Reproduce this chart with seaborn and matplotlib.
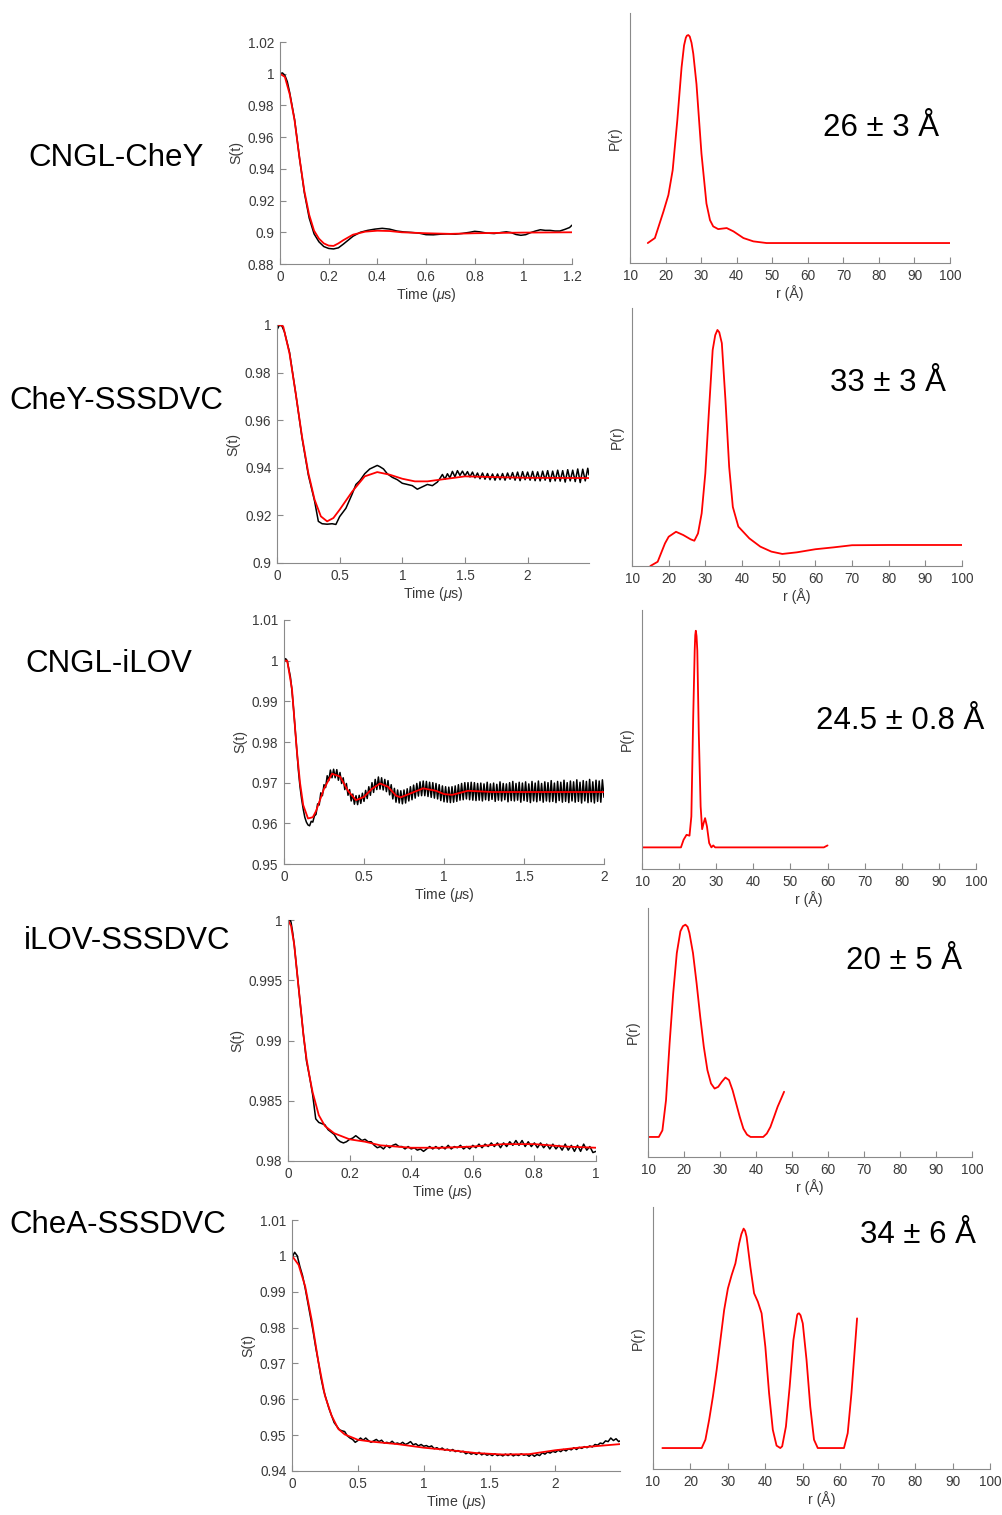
import numpy as np
import matplotlib
matplotlib.use("Agg")
import matplotlib.pyplot as plt
import seaborn as sns

# ---------------- data ----------------
labels = ["CNGL-CheY", "CheY-SSSDVC", "CNGL-iLOV", "iLOV-SSSDVC", "CheA-SSSDVC"]
distances = ["26 ± 3 Å", "33 ± 3 Å", "24.5 ± 0.8 Å", "20 ± 5 Å", "34 ± 6 Å"]

# Row 1 : CNGL-CheY
t1_fit = [0, 0.02, 0.04, 0.06, 0.08, 0.10, 0.12, 0.14, 0.16, 0.18, 0.20, 0.22, 0.24, 0.26, 0.30, 0.35,
          0.40, 0.45, 0.50, 0.60, 0.70, 0.80, 1.0, 1.2]
s1_fit = [1.0, 0.998, 0.987, 0.9705, 0.947, 0.926, 0.911, 0.901, 0.896, 0.893, 0.8916, 0.8914, 0.893,
          0.895, 0.8985, 0.9004, 0.901, 0.9008, 0.900, 0.8994, 0.899, 0.8994, 0.8998, 0.900]
t1_exp = [0, 0.01, 0.02, 0.03, 0.04, 0.06, 0.08, 0.10, 0.12, 0.14, 0.16, 0.18, 0.20, 0.22, 0.24, 0.26,
          0.28, 0.30, 0.33, 0.36, 0.39, 0.42, 0.45, 0.48, 0.51, 0.54, 0.57, 0.60, 0.63, 0.66, 0.69, 0.72,
          0.75, 0.78, 0.80, 0.82, 0.85, 0.88, 0.91, 0.93, 0.95, 0.97, 0.99, 1.01, 1.03, 1.05, 1.07, 1.09,
          1.11, 1.13, 1.15, 1.17, 1.19, 1.2]
s1_exp = [1.0, 1.0005, 0.999, 0.995, 0.988, 0.971, 0.947, 0.925, 0.909, 0.899, 0.894, 0.891, 0.8898,
          0.8895, 0.8902, 0.8925, 0.895, 0.8975, 0.900, 0.9012, 0.902, 0.9025, 0.902, 0.9008, 0.9002,
          0.8999, 0.8995, 0.8985, 0.8984, 0.8988, 0.899, 0.8988, 0.8993, 0.900, 0.9006, 0.9003, 0.8995,
          0.8992, 0.8999, 0.9003, 0.8998, 0.8986, 0.8981, 0.8985, 0.8998, 0.9008, 0.9016, 0.9012, 0.9012,
          0.9008, 0.9008, 0.9018, 0.903, 0.9045]
r1 = [15, 17, 19.4, 20.8, 22, 23.3, 24.5, 25.2, 25.7, 26.0, 26.4, 26.8, 27.3, 27.8, 28.7, 30.1, 31.5,
      32.5, 33.4, 34.8, 37.2, 39.1, 41.9, 44.7, 48.4, 100]
p1 = [0, 0.024, 0.151, 0.231, 0.35, 0.589, 0.844, 0.95, 0.987, 0.997, 1.0, 0.993, 0.963, 0.91, 0.764,
      0.43, 0.19, 0.11, 0.08, 0.067, 0.072, 0.056, 0.024, 0.008, 0, 0]

# Row 2 : CheY-SSSDVC
t2_fit = [0, 0.03, 0.05, 0.10, 0.15, 0.20, 0.25, 0.30, 0.35, 0.40, 0.45, 0.50, 0.60, 0.70, 0.80, 0.90,
          1.0, 1.1, 1.2, 1.3, 1.5, 1.8, 2.0, 2.49]
s2_fit = [1.0, 1.0, 0.9993, 0.988, 0.971, 0.953, 0.9378, 0.9266, 0.9196, 0.9175, 0.9189, 0.9224, 0.930,
          0.9364, 0.9382, 0.9371, 0.9354, 0.9343, 0.9343, 0.935, 0.9364, 0.936, 0.9358, 0.9357]
t2_exp = [0, 0.02, 0.04, 0.06, 0.10, 0.15, 0.20, 0.25, 0.30, 0.33, 0.36, 0.40, 0.44, 0.47, 0.50, 0.55,
          0.60, 0.63, 0.66, 0.70, 0.74, 0.78, 0.80, 0.82, 0.85, 0.88, 0.92, 0.96, 1.00, 1.04, 1.08, 1.12,
          1.16, 1.20, 1.24, 1.28,
          1.30, 1.32, 1.34, 1.36, 1.38, 1.40, 1.42, 1.44, 1.46, 1.48, 1.50, 1.52, 1.54, 1.56, 1.58, 1.60,
          1.62, 1.64, 1.66, 1.68, 1.70, 1.72, 1.74, 1.76, 1.78, 1.80, 1.82, 1.84, 1.86, 1.88, 1.90, 1.92,
          1.94, 1.96, 1.98, 2.00, 2.02, 2.04, 2.06, 2.08, 2.10, 2.12, 2.14, 2.16, 2.18, 2.20, 2.22, 2.24,
          2.26, 2.28, 2.30, 2.32, 2.34, 2.36, 2.38, 2.40, 2.42, 2.44, 2.46, 2.48, 2.49]
s2_exp = [0.998, 1.0, 0.9995, 0.997, 0.9885, 0.971, 0.9525, 0.937, 0.926, 0.9175, 0.9165, 0.9163, 0.9165,
          0.9162, 0.9195, 0.923, 0.929, 0.933, 0.9345, 0.9375, 0.9395, 0.9405, 0.941, 0.9405, 0.9395,
          0.9375, 0.936, 0.935, 0.9335, 0.933, 0.9325, 0.931, 0.932, 0.933, 0.9325, 0.934,
          0.9355, 0.9372, 0.9352, 0.9375, 0.9358, 0.9385, 0.9362, 0.9388, 0.9368, 0.9386, 0.9366, 0.9384,
          0.9362, 0.9382, 0.9358, 0.9378, 0.9354, 0.9378, 0.9352, 0.9376, 0.935, 0.9374, 0.9348, 0.9374,
          0.935, 0.9376, 0.9348, 0.9378, 0.9352, 0.938, 0.9348, 0.9382, 0.9346, 0.9384, 0.935, 0.9382,
          0.9348, 0.9385, 0.9346, 0.9383, 0.9345, 0.9386, 0.9348, 0.9388, 0.9342, 0.9386, 0.9345, 0.939,
          0.9344, 0.9388, 0.934, 0.9392, 0.9345, 0.939, 0.9342, 0.9395, 0.9338, 0.9394, 0.9345, 0.9398,
          0.937]
r2 = [15, 17, 19, 20, 22, 24, 26, 27, 28, 29, 30, 31, 32, 32.7, 33.3, 33.8, 34.5, 35.5, 36.5, 37.5, 39,
      42, 45, 48, 51, 55, 60, 65, 70, 80, 100]
p2 = [0, 0.018, 0.096, 0.124, 0.145, 0.131, 0.113, 0.107, 0.138, 0.223, 0.393, 0.661, 0.915, 0.978,
      1.0, 0.99, 0.944, 0.70, 0.42, 0.25, 0.167, 0.117, 0.082, 0.061, 0.051, 0.058, 0.071, 0.079, 0.088,
      0.089, 0.089]

# Row 3 : CNGL-iLOV
t3_fit = [0, 0.02, 0.05, 0.08, 0.10, 0.12, 0.15, 0.18, 0.20, 0.25, 0.30, 0.35, 0.40, 0.45, 0.50, 0.55,
          0.60, 0.65, 0.70, 0.73, 0.80, 0.87, 0.95, 1.0, 1.05, 1.15, 1.3, 1.5, 2.0]
s3_fit = [1.0, 1.0, 0.993, 0.978, 0.970, 0.9645, 0.9612, 0.9615, 0.963, 0.9685, 0.9722, 0.9715, 0.968,
          0.9657, 0.9665, 0.9685, 0.9698, 0.969, 0.9668, 0.9664, 0.9675, 0.9686, 0.968, 0.9672, 0.967,
          0.968, 0.9677, 0.9677, 0.9677]
t3_exp = [0, 0.01, 0.02, 0.03, 0.04, 0.05, 0.06, 0.07, 0.08, 0.09, 0.10, 0.11, 0.12, 0.13, 0.14, 0.15,
          0.16, 0.17, 0.18, 0.19] + list(np.round(np.arange(0.20, 2.001, 0.01), 2))
s3_exp = [0.9995, 1.0005, 1.0, 0.998, 0.996, 0.9925, 0.988, 0.983, 0.978, 0.973, 0.969, 0.966, 0.9635,
          0.9615, 0.9603, 0.9596, 0.9594, 0.9605, 0.9603, 0.9618,
          0.9622, 0.9648, 0.9645, 0.9675, 0.9668, 0.9695, 0.9688, 0.9717, 0.9705, 0.9731,
          0.9712, 0.9733, 0.9712, 0.9732, 0.9706, 0.9725, 0.9698, 0.9712, 0.9683, 0.9698,
          0.9669, 0.9683, 0.9655, 0.9672, 0.9647, 0.9668, 0.9646, 0.9669, 0.9649, 0.9674,
          0.9654, 0.9681, 0.9661, 0.969, 0.9669, 0.970, 0.9676, 0.9708, 0.9683, 0.9714,
          0.9684, 0.9712, 0.9682, 0.9708, 0.9678, 0.9705, 0.967, 0.9695, 0.966, 0.9686,
          0.9652, 0.9682, 0.965, 0.968, 0.9648, 0.9682, 0.965, 0.9685, 0.9655, 0.969,
          0.9658, 0.9694, 0.9662, 0.9698, 0.9667, 0.9702, 0.9668, 0.9704, 0.9668, 0.9703,
          0.9666, 0.9701, 0.9664, 0.970, 0.9662, 0.9698, 0.966, 0.9695, 0.9656, 0.9692,
          0.9653, 0.969, 0.9652, 0.9689, 0.9651, 0.969, 0.9652, 0.9692, 0.9654, 0.9695,
          0.9657, 0.9698, 0.9658, 0.970, 0.966, 0.970, 0.9658, 0.9701, 0.9657, 0.970,
          0.9656, 0.9698, 0.9657, 0.9699, 0.9655, 0.9697, 0.9658, 0.9701, 0.9656, 0.9697,
          0.9659, 0.9699, 0.9654, 0.9696, 0.9657, 0.9702, 0.9655, 0.9698, 0.9658, 0.9697,
          0.9653, 0.970, 0.9656, 0.9703, 0.9655, 0.9698, 0.9657, 0.9701, 0.9652, 0.9699,
          0.9656, 0.9702, 0.9654, 0.9697, 0.9651, 0.9703, 0.9655, 0.9699, 0.9653, 0.9704,
          0.9656, 0.9698, 0.9652, 0.9702, 0.9655, 0.970, 0.9653, 0.9705, 0.9654, 0.9699,
          0.9651, 0.9703, 0.9656, 0.9701, 0.9652, 0.9706, 0.9654, 0.970, 0.9651, 0.9704,
          0.9655, 0.9702, 0.9652, 0.9707, 0.9654, 0.9701, 0.965, 0.9705, 0.9655, 0.9703,
          0.9651, 0.9708, 0.9653, 0.9702, 0.965, 0.9706, 0.9654, 0.9704, 0.9652, 0.9707,
          0.9664]
r3 = [10, 20.5, 21.2, 22, 22.8, 23.3, 23.8, 24.2, 24.35, 24.5, 24.7, 24.9, 25.3, 25.8, 26.2, 26.6, 27.0,
      27.5, 28.1, 28.7, 29.2, 29.7, 59, 60]
p3 = [0, 0, 0.035, 0.058, 0.054, 0.143, 0.604, 0.91, 0.98, 1.0, 0.975, 0.91, 0.527, 0.189, 0.084, 0.112,
      0.135, 0.097, 0.02, 0, 0.009, 0, 0, 0.009]

# Row 4 : iLOV-SSSDVC
t4_fit = [0, 0.01, 0.02, 0.03, 0.04, 0.05, 0.06, 0.07, 0.08, 0.10, 0.12, 0.15, 0.20, 0.25, 0.30, 0.40,
          0.50, 0.60, 0.70, 0.80, 0.90, 1.0]
s4_fit = [1.0, 0.9995, 0.998, 0.9955, 0.993, 0.9905, 0.9885, 0.987, 0.9857, 0.9838, 0.9829, 0.9823,
          0.9818, 0.9816, 0.9813, 0.9811, 0.9811, 0.9812, 0.9814, 0.9814, 0.9812, 0.9811]
t4_exp = [0, 0.005, 0.01, 0.015, 0.02, 0.03, 0.04, 0.05, 0.06, 0.07, 0.08, 0.09] + \
         list(np.round(np.arange(0.10, 1.001, 0.01), 2))
s4_exp = [0.9997, 1.0002, 0.9998, 0.999, 0.998, 0.9955, 0.993, 0.9905, 0.9883, 0.987, 0.9855, 0.9835,
          0.9832, 0.9831, 0.983, 0.9826, 0.9824, 0.9822, 0.9818, 0.9816, 0.9815, 0.9816,
          0.9818, 0.9819, 0.9821, 0.9819, 0.9817, 0.9818, 0.9816, 0.9816, 0.9813, 0.9811,
          0.9812, 0.981, 0.9813, 0.9811, 0.9813, 0.9814, 0.9812, 0.9812, 0.981, 0.9812,
          0.981, 0.9811, 0.9809, 0.981, 0.9808, 0.981, 0.9812, 0.981, 0.9812, 0.981,
          0.9812, 0.981, 0.9813, 0.981, 0.9812, 0.9811, 0.9813, 0.981, 0.9812, 0.981,
          0.9813, 0.9811, 0.9814, 0.9811, 0.9814, 0.9812, 0.9815, 0.9812, 0.9815, 0.9811,
          0.9815, 0.9812, 0.9816, 0.9813, 0.9817, 0.9813, 0.9817, 0.9812, 0.9816, 0.9812,
          0.9815, 0.9811, 0.9815, 0.9811, 0.9814, 0.981, 0.9814, 0.981, 0.9813, 0.9809,
          0.9814, 0.9809, 0.9813, 0.9808, 0.9813, 0.9808, 0.9814, 0.9809, 0.9812, 0.9807,
          0.9808]
r4 = [10, 13, 14, 15, 16, 17, 18, 19, 19.7, 20.4, 21, 21.5, 22.5, 23.5, 24.5, 25.5, 26.5, 27.5, 28.5,
      29.5, 30.5, 31.5, 32.5, 33.5, 34.5, 35.5, 36.5, 37.5, 38.5, 42, 43, 44, 45, 46, 47, 47.8]
p4 = [0, 0, 0.031, 0.173, 0.441, 0.677, 0.866, 0.969, 0.993, 1.0, 0.99, 0.961, 0.866, 0.724, 0.567,
      0.425, 0.315, 0.252, 0.228, 0.236, 0.26, 0.28, 0.268, 0.22, 0.157, 0.094, 0.039, 0.011, 0, 0,
      0.016, 0.047, 0.094, 0.142, 0.181, 0.213]

# Row 5 : CheA-SSSDVC
t5_fit = [0, 0.05, 0.10, 0.15, 0.20, 0.25, 0.30, 0.35, 0.40, 0.50, 0.60, 0.80, 1.0, 1.2, 1.4, 1.6, 1.8,
          2.0, 2.2, 2.49]
s5_fit = [1.0, 0.9975, 0.9915, 0.982, 0.9705, 0.961, 0.9555, 0.9518, 0.9502, 0.9487, 0.9482, 0.9475,
          0.9465, 0.9458, 0.945, 0.9446, 0.9447, 0.9458, 0.9466, 0.9475]
t5_exp = list(np.round(np.arange(0, 2.481, 0.02), 2)) + [2.49]
s5_exp = [0.9995, 1.001, 1.0, 0.997, 0.9945, 0.991, 0.987, 0.983, 0.979, 0.9745, 0.9705, 0.966, 0.9625,
          0.960, 0.9575, 0.9555, 0.9535, 0.9525, 0.9515, 0.9512, 0.951, 0.9498, 0.9492, 0.9488, 0.948,
          0.9485, 0.9492, 0.9486, 0.9492, 0.9485, 0.948, 0.9484, 0.9488, 0.9482, 0.9486, 0.9478, 0.948,
          0.9477, 0.9483, 0.9476, 0.9478, 0.9475, 0.948, 0.9474, 0.9477, 0.9482, 0.9473, 0.9476, 0.947,
          0.9474, 0.9469, 0.9471, 0.9467, 0.947, 0.9462, 0.9465, 0.946, 0.9464, 0.9458, 0.9461, 0.9456,
          0.946, 0.9454, 0.9457, 0.9453, 0.9455, 0.9448, 0.9452, 0.9447, 0.945, 0.9446, 0.9452, 0.9445,
          0.9449, 0.9444, 0.9447, 0.9443, 0.9448, 0.9443, 0.9446, 0.9442, 0.9447, 0.9443, 0.9448, 0.9442,
          0.9446, 0.9443, 0.9448, 0.9444, 0.9446, 0.9441, 0.9447, 0.9441, 0.9446, 0.9443, 0.9451, 0.9447,
          0.9453, 0.945, 0.9455, 0.9452, 0.9458, 0.9454, 0.946, 0.9456, 0.9462, 0.9459, 0.9465, 0.946,
          0.9466, 0.9463, 0.9468, 0.9465, 0.947, 0.9467, 0.9474, 0.9472, 0.9478, 0.9476, 0.9484, 0.9482,
          0.9492, 0.9485, 0.949, 0.9482, 0.9484]
r5 = [12.5, 23, 24, 25, 26, 27, 28, 29, 30, 31, 32, 33, 33.6, 34.2, 34.6, 35, 36, 37, 38, 39, 40, 41,
      42, 43, 44, 44.5, 45.5, 46.5, 47.5, 48.5, 48.7, 49, 49.4, 50, 51, 52, 53, 54, 61, 62, 63, 64, 64.5]
p5 = [0, 0, 0.038, 0.129, 0.235, 0.356, 0.492, 0.629, 0.727, 0.788, 0.841, 0.932, 0.975, 1.0, 0.99,
      0.962, 0.826, 0.705, 0.667, 0.614, 0.462, 0.25, 0.083, 0.011, 0, 0.008, 0.098, 0.28, 0.492, 0.606,
      0.612, 0.614, 0.605, 0.568, 0.402, 0.189, 0.038, 0, 0, 0.068, 0.25, 0.477, 0.591]

# axis ticks
x_ticks = [[0, 0.2, 0.4, 0.6, 0.8, 1, 1.2], [0, 0.5, 1, 1.5, 2], [0, 0.5, 1, 1.5, 2],
           [0, 0.2, 0.4, 0.6, 0.8, 1], [0, 0.5, 1, 1.5, 2]]
y_ticks = [[0.88, 0.9, 0.92, 0.94, 0.96, 0.98, 1, 1.02], [0.9, 0.92, 0.94, 0.96, 0.98, 1],
           [0.95, 0.96, 0.97, 0.98, 0.99, 1, 1.01], [0.98, 0.985, 0.99, 0.995, 1],
           [0.94, 0.95, 0.96, 0.97, 0.98, 0.99, 1, 1.01]]
r_ticks = [10, 20, 30, 40, 50, 60, 70, 80, 90, 100]

# ---------------- layout / style ----------------
W, H = 1002, 1515
x_lims = [(0, 1.2), (0, 2.49), (0, 2), (0, 1), (0, 2.49)]
y_lims = [(0.88, 1.02), (0.9, 1.0), (0.95, 1.01), (0.98, 1.0), (0.94, 1.01)]
p_lims = [(-0.096, 1.106), (0, 1.093), (-0.0998, 1.0957), (-0.0944, 1.0786), (-0.0955, 1.0985)]
left_boxes = [(280, 42, 572, 264), (277, 325, 589, 563), (284, 620, 604, 864),
              (288, 920, 596, 1161), (292, 1220, 620, 1471)]
right_boxes = [(630, 13, 950, 263), (632, 308, 962, 566), (642, 610, 976, 869),
               (648, 908, 972, 1157), (653, 1207, 990, 1469)]
label_pos = [(116.5, 158), (116.5, 401), (109, 664), (127, 941), (118, 1225)]
dist_pos = [(881, 128), (887.5, 383), (900.5, 721), (904, 961), (917.5, 1235)]

sns.set_style("ticks")
plt.rcParams["font.family"] = ["Liberation Sans", "DejaVu Sans"]
plt.rcParams["mathtext.fontset"] = "custom"
plt.rcParams["mathtext.rm"] = "Liberation Sans"
plt.rcParams["mathtext.it"] = "Liberation Sans:italic"
AX_COL = "#8a8a8a"
TXT_COL = "#3a3a3a"
TICK_FS = 9.8
LAB_FS = 10.2


def box(b):
    x0, y0, x1, y1 = b
    return [x0 / W, 1 - y1 / H, (x1 - x0) / W, (y1 - y0) / H]


def style(ax):
    sns.despine(ax=ax)
    for s in ("left", "bottom"):
        ax.spines[s].set_color(AX_COL)
        ax.spines[s].set_linewidth(0.8)
    ax.tick_params(direction="in", length=4, width=0.8, color=AX_COL, labelcolor=TXT_COL,
                   labelsize=TICK_FS, pad=4)


def fmt(v):
    return f"{round(v, 4):g}"


fig = plt.figure(figsize=(W / 100, H / 100), dpi=100)
fig.patch.set_facecolor("white")

exp_t = [t1_exp, t2_exp, t3_exp, t4_exp, t5_exp]
exp_s = [s1_exp, s2_exp, s3_exp, s4_exp, s5_exp]
fit_t = [t1_fit, t2_fit, t3_fit, t4_fit, t5_fit]
fit_s = [s1_fit, s2_fit, s3_fit, s4_fit, s5_fit]
rr = [r1, r2, r3, r4, r5]
pp = [p1, p2, p3, p4, p5]

for i in range(5):
    # left: time trace
    ax = fig.add_axes(box(left_boxes[i]))
    sns.lineplot(x=exp_t[i], y=exp_s[i], ax=ax, color="black", linewidth=1.1,
                 estimator=None, sort=False)
    sns.lineplot(x=fit_t[i], y=fit_s[i], ax=ax, color="#ff0000", linewidth=1.3,
                 estimator=None, sort=False)
    ax.set_xlim(*x_lims[i])
    ax.set_ylim(*y_lims[i])
    ax.set_xticks(x_ticks[i])
    ax.set_xticklabels([fmt(v) for v in x_ticks[i]])
    ax.set_yticks(y_ticks[i])
    ax.set_yticklabels([fmt(v) for v in y_ticks[i]])
    ax.set_xlabel(r"Time ($\mu$s)", fontsize=LAB_FS, color=TXT_COL, labelpad=2)
    ax.set_ylabel("S(t)", fontsize=LAB_FS, color=TXT_COL, labelpad=3)
    style(ax)

    # right: distance distribution
    ax2 = fig.add_axes(box(right_boxes[i]))
    sns.lineplot(x=rr[i], y=pp[i], ax=ax2, color="#ff0000", linewidth=1.3,
                 estimator=None, sort=False)
    ax2.set_xlim(10, 100)
    ax2.set_ylim(*p_lims[i])
    ax2.set_xticks(r_ticks)
    ax2.set_xticklabels([str(v) for v in r_ticks])
    ax2.set_yticks([])
    ax2.set_xlabel("r (Å)", fontsize=LAB_FS, color=TXT_COL, labelpad=2)
    ax2.set_ylabel("P(r)", fontsize=LAB_FS, color=TXT_COL, labelpad=6)
    style(ax2)

    # texts
    lx, ly = label_pos[i]
    fig.text(lx / W, 1 - ly / H, labels[i], ha="center", va="center", fontsize=22.5, color="black")
    dx, dy = dist_pos[i]
    fig.text(dx / W, 1 - dy / H, distances[i], ha="center", va="center", fontsize=22.5, color="black")

fig.savefig("out.png", dpi=100, facecolor="white")
